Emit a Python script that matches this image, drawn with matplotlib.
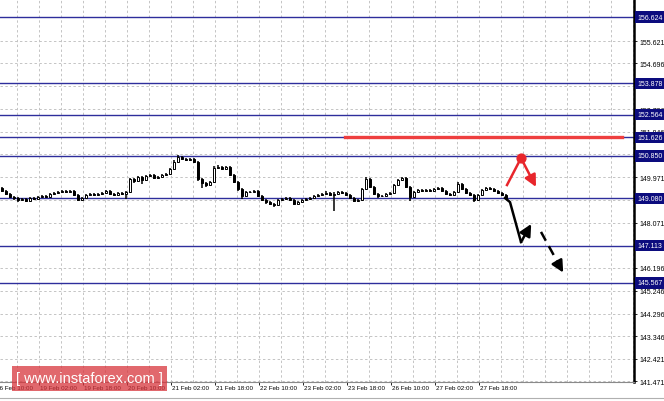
import matplotlib.pyplot as plt
from matplotlib.patches import Rectangle
import numpy as np

plt.rcParams['font.family'] = ['Liberation Sans', 'DejaVu Sans']

# hourly-ish bars (bar index = position on the time axis)
closes = [149.39, 149.27, 149.14, 149.10, 149.02, 149.06, 148.98, 149.10, 149.06, 149.14,
          149.18, 149.14, 149.27, 149.31, 149.35, 149.39, 149.35, 149.39, 149.23, 149.02,
          149.10, 149.23, 149.27, 149.23, 149.27, 149.31, 149.39, 149.27, 149.23, 149.31,
          149.27, 149.35, 149.89, 149.81, 149.97, 149.85, 150.02, 150.06, 149.93, 149.97,
          150.06, 150.10, 150.31, 150.60, 150.81, 150.72, 150.68, 150.72, 150.60, 149.89,
          149.72, 149.64, 149.77, 150.35, 150.39, 150.31, 150.39, 150.06, 149.77, 149.47,
          149.18, 149.35, 149.37, 149.39, 149.18, 149.02, 148.93, 148.85, 148.81, 149.02,
          149.06, 149.10, 149.02, 148.85, 148.93, 149.02, 149.06, 149.10, 149.18, 149.23,
          149.27, 149.31, 149.23, 149.27, 149.35, 149.31, 149.23, 149.10, 148.98, 149.02,
          149.47, 149.89, 149.56, 149.27, 149.18, 149.20, 149.27, 149.31, 149.64, 149.85,
          149.93, 149.56, 149.14, 149.35, 149.43, 149.39, 149.43, 149.39, 149.47, 149.52,
          149.39, 149.27, 149.23, 149.35, 149.68, 149.47, 149.31, 149.23, 149.02, 149.23,
          149.43, 149.52, 149.47, 149.39, 149.31, 149.23, 149.10]
highs = [149.55, 149.43, 149.31, 149.19, 149.14, 149.11, 149.10, 149.15, 149.14, 149.18,
         149.23, 149.22, 149.31, 149.36, 149.40, 149.44, 149.43, 149.45, 149.42, 149.26,
         149.14, 149.27, 149.31, 149.31, 149.32, 149.35, 149.44, 149.42, 149.30, 149.35,
         149.35, 149.39, 149.95, 149.93, 150.02, 150.01, 150.07, 150.10, 150.10, 150.01,
         150.10, 150.15, 150.36, 150.66, 150.87, 150.86, 150.77, 150.77, 150.76, 150.64,
         149.95, 149.77, 149.82, 150.44, 150.46, 150.44, 150.45, 150.42, 150.10, 149.81,
         149.51, 149.40, 149.41, 149.43, 149.42, 149.22, 149.07, 148.98, 148.90, 149.07,
         149.11, 149.15, 149.13, 149.05, 148.97, 149.06, 149.11, 149.14, 149.23, 149.28,
         149.32, 149.38, 149.35, 149.33, 149.41, 149.39, 149.34, 149.26, 149.13, 149.07,
         149.52, 149.96, 149.92, 149.60, 149.31, 149.24, 149.31, 149.36, 149.69, 149.91,
         149.99, 149.96, 149.60, 149.40, 149.48, 149.47, 149.48, 149.46, 149.52, 149.57,
         149.55, 149.42, 149.31, 149.40, 149.75, 149.71, 149.50, 149.35, 149.26, 149.27,
         149.48, 149.57, 149.55, 149.51, 149.43, 149.35, 149.27]
lows = [149.33, 149.22, 149.08, 149.03, 148.95, 148.98, 148.92, 148.94, 149.00, 149.02,
        149.10, 149.08, 149.11, 149.23, 149.27, 149.31, 149.30, 149.31, 149.18, 148.97,
        148.98, 149.07, 149.20, 149.18, 149.19, 149.23, 149.28, 149.22, 149.18, 149.20,
        149.22, 149.06, 149.30, 149.74, 149.77, 149.70, 149.81, 149.97, 149.88, 149.89,
        149.94, 150.02, 150.07, 150.27, 150.56, 150.66, 150.62, 150.63, 150.54, 149.80,
        149.50, 149.57, 149.60, 149.73, 150.30, 150.25, 150.27, 150.01, 149.71, 149.41,
        149.06, 149.13, 149.30, 149.33, 149.13, 148.96, 148.87, 148.79, 148.74, 148.78,
        148.98, 149.02, 148.97, 148.80, 148.81, 148.90, 148.99, 149.02, 149.07, 149.15,
        149.20, 149.24, 149.18, 148.56, 149.23, 149.26, 149.18, 149.04, 148.92, 148.94,
        148.99, 149.43, 149.50, 149.21, 149.12, 149.13, 149.16, 149.23, 149.28, 149.60,
        149.80, 149.50, 148.98, 149.10, 149.31, 149.34, 149.35, 149.33, 149.35, 149.44,
        149.34, 149.22, 149.17, 149.19, 149.31, 149.42, 149.26, 149.17, 148.94, 148.98,
        149.19, 149.39, 149.42, 149.35, 149.26, 149.18, 149.05]
first_open = 149.50

levels = [156.624, 153.878, 152.564, 151.626, 150.850, 149.080, 147.113, 145.567]
price_ticks = [155.621, 154.696, 153.771, 152.796, 151.846, 150.921, 149.971, 149.021,
               148.071, 147.121, 146.196, 145.246, 144.296, 143.346, 142.421, 141.471]
# labels that sit under a level box are not visible on the chart
hidden_ticks = [150.921, 149.021, 147.121]
time_labels = ['16 Feb 10:00', '19 Feb 02:00', '19 Feb 18:00', '20 Feb 10:00',
               '21 Feb 02:00', '21 Feb 18:00', '22 Feb 10:00', '23 Feb 02:00',
               '23 Feb 18:00', '26 Feb 10:00', '27 Feb 02:00', '27 Feb 18:00']

# forecast sketch (bar index, price)
fall_x = [125.75, 127.0, 129.75]
fall_y = [149.10, 148.93, 147.27]
bounce_end = (132.3, 148.02)
drop_x = [134.75, 139.6]
drop_y = [147.69, 146.22]
drop_end = (140.3, 146.00)
red_up_x = [126.25, 129.75]
red_up_y = [149.64, 150.76]
red_down_end = (133.5, 149.56)
resistance = 151.626
resistance_span = (85.75, 155.0)

opens = [first_open] + closes[:-1]
n = len(closes)
x = np.arange(n)

fig = plt.figure(figsize=(6.64, 4.02), dpi=100)
ax = fig.add_axes([0, 19 / 402, 634 / 664, 383 / 402])
ax.set_xlim(-0.5, 158)
ax.set_ylim(141.45, 157.375)

# grid
for p in price_ticks:
    ax.axhline(p, color='#c4c4c4', lw=0.7, dashes=(2.5, 2.5), zorder=1)
for k in range(30):
    ax.axvline(-1.75 + 5.5 * k, color='#c4c4c4', lw=0.7, dashes=(2.5, 2.5), zorder=1)

# levels
for lv in levels:
    ax.axhline(lv, color='#2e2e9c', lw=1.0, zorder=2)
    ax.annotate(f'{lv:.3f}', xy=(1, lv), xycoords=('axes fraction', 'data'),
                xytext=(2.2, 0), textcoords='offset points', ha='left', va='center',
                color='white', fontsize=5,
                bbox=dict(boxstyle='square,pad=0.3', fc='#0c0c7e', ec='none'),
                annotation_clip=False, zorder=10)

# candles
ax.vlines(x, lows, highs, color='black', lw=1.1, zorder=3)
for i in range(n):
    o, c = opens[i], closes[i]
    fc = 'white' if c >= o else 'black'
    ax.add_patch(Rectangle((i - 0.35, min(o, c)), 0.7, max(abs(c - o), 0.015),
                           fc=fc, ec='black', lw=0.7, zorder=4))

# resistance line
ax.plot(resistance_span, [resistance, resistance], color='#ee3f3f', lw=2.4, zorder=5)

# black forecast
ax.plot(fall_x, fall_y, color='black', lw=1.8, zorder=6)
ax.annotate('', xy=bounce_end, xytext=(fall_x[-1], fall_y[-1]),
            arrowprops=dict(arrowstyle='-|>,head_length=0.7,head_width=0.35',
                            color='black', lw=1.8, shrinkA=0, shrinkB=0), zorder=6)
ax.plot(drop_x, drop_y, color='black', lw=1.8, dashes=(4, 2.5), zorder=6)
ax.annotate('', xy=drop_end, xytext=(drop_x[-1] - 0.4, drop_y[-1] + 0.1),
            arrowprops=dict(arrowstyle='-|>,head_length=0.7,head_width=0.35',
                            color='black', lw=1.8, shrinkA=0, shrinkB=0), zorder=6)

# red forecast
ax.plot(red_up_x, red_up_y, color='#e8262c', lw=1.8, zorder=6)
ax.scatter([red_up_x[-1]], [red_up_y[-1]], s=40, color='#e8262c', zorder=7)
ax.annotate('', xy=red_down_end, xytext=(red_up_x[-1], red_up_y[-1]),
            arrowprops=dict(arrowstyle='-|>,head_length=0.7,head_width=0.35',
                            color='#e8262c', lw=1.8, shrinkA=0, shrinkB=0), zorder=6)

# axes styling
for s in ['left', 'top']:
    ax.spines[s].set_visible(False)
ax.spines['right'].set_color('black')
ax.spines['right'].set_linewidth(1.8)
ax.spines['bottom'].set_color('#8a8a8a')
ax.spines['bottom'].set_linewidth(0.8)
ax.yaxis.tick_right()
ax.set_yticks(price_ticks)
ax.set_yticklabels(['' if p in hidden_ticks else f'{p:.3f}' for p in price_ticks])
ax.tick_params(axis='y', labelsize=5, length=2.5, width=0.6, pad=1.5)

tick_pos = [-1.75 + 11 * k for k in range(len(time_labels))]
ax.set_xticks([t for t in tick_pos if t > -0.5])
ax.set_xticklabels([])
ax.tick_params(axis='x', length=2.5, width=0.6)
for t, lab in zip(tick_pos, time_labels):
    ax.annotate(lab, xy=(t, 0), xycoords=('data', 'axes fraction'),
                xytext=(0.8, -2.5), textcoords='offset points', ha='left', va='top',
                fontsize=4.5, annotation_clip=False)

# bottom tab strip
fig.add_artist(plt.Line2D([0, 1], [3 / 402, 3 / 402], color='#b0b0b0', lw=0.8))

# watermark
fig.add_artist(Rectangle((12 / 664, 10 / 402), 155 / 664, 25 / 402,
                         transform=fig.transFigure, fc='#d8353c', ec='none', alpha=0.75,
                         zorder=20))
fig.text(89.5 / 664, 22.5 / 402, '[ www.instaforex.com ]', color='white',
         fontsize=10.5, ha='center', va='center', zorder=21)

fig.savefig('out.png', dpi=100)
